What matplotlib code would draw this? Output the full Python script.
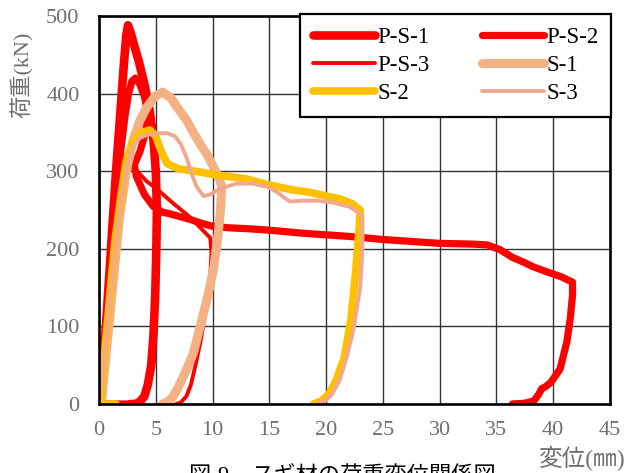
import matplotlib
matplotlib.use("Agg")
import matplotlib.pyplot as plt

# load-displacement data (x: mm, y: kN)
ps1_x = [0.0, 0.3, 0.7, 1.1, 1.5, 1.9, 2.2, 2.4, 2.55, 2.8, 3.1, 3.5, 4.0, 4.4, 4.8,
         5.0, 5.1, 5.05, 4.95, 4.8, 4.6, 4.3, 4.0, 3.6, 3.2, 2.8]
ps1_y = [0, 40, 120, 210, 300, 380, 440, 475, 488, 478, 462, 442, 412, 385, 340,
         300, 250, 200, 140, 90, 50, 25, 10, 3, 0, 0]

ps2_x = [2.6, 1.2, 0.1, 0.5, 1.0, 1.5, 1.9, 2.3, 2.6, 2.9, 3.2, 3.6, 4.0, 4.3, 4.1,
         3.6, 3.1, 3.3, 4.0, 4.75, 5.6, 6.0, 7.0, 8.0, 9.0, 10.0, 11.5, 13.0, 15.0,
         18.0, 20.0, 22.0, 25.0, 28.0, 30.0, 33.0, 34.2, 35.3, 36.4, 37.5, 38.2,
         39.5, 40.7, 41.7, 41.7, 41.5, 41.2, 40.6, 39.8, 39.3, 39.0, 38.7, 38.3,
         37.5, 36.4]
ps2_y = [0, 0, 0, 80, 170, 260, 325, 372, 400, 416, 420, 412, 396, 375, 350,
         325, 308, 293, 270, 255, 247, 246, 242, 238, 233, 229, 227, 226, 224,
         220, 218, 216, 212, 209, 207, 206, 205, 199, 189, 182, 177,
         170, 164, 157, 140, 110, 80, 45, 28, 22, 20, 12, 4,
         1, 0]

ps3_x = [0.0, 0.5, 1.0, 1.5, 2.0, 2.6, 3.35, 4.2, 5.1, 6.5, 8.0, 9.0, 9.8, 9.9,
         9.8, 9.4, 9.0, 8.5, 8.1, 7.7, 7.2, 6.8]
ps3_y = [0, 80, 170, 260, 315, 318, 300, 287, 277, 259, 241, 226, 214, 195,
         165, 120, 85, 50, 25, 10, 2, 0]

s1_x = [0.2, 0.6, 1.2, 1.8, 2.4, 3.0, 3.6, 4.2, 4.9, 5.6, 6.3, 7.0, 7.7, 8.3,
        8.9, 9.5, 10.1, 10.6, 10.8, 10.7, 10.5, 10.1, 9.6, 9.0, 8.3, 7.7, 7.0,
        6.5, 6.0, 5.6]
s1_y = [0, 60, 150, 240, 300, 340, 365, 382, 396, 402, 395, 380, 366, 350,
        335, 322, 305, 290, 280, 250, 220, 175, 140, 105, 65, 44, 22,
        9, 2, 0]

s2_x = [1.5, 0.1, 0.4, 0.9, 1.4, 1.9, 2.4, 3.0, 3.7, 4.5, 5.0, 5.5, 6.0, 7.0,
        8.5, 10.0, 11.5, 13.0, 14.5, 15.7, 17.0, 18.5, 20.0, 21.3, 22.3, 23.0,
        22.9, 22.6, 22.2, 21.6, 20.9, 20.3, 19.6, 18.9]
s2_y = [0, 0, 50, 130, 210, 265, 314, 338, 350, 353, 345, 325, 310, 303,
        300, 296, 293, 290, 284, 280, 276, 273, 268, 264, 258, 250,
        225, 170, 110, 60, 31, 14, 4, 0]

s3_x = [0.0, 0.5, 1.0, 1.5, 2.0, 2.5, 3.0, 3.6, 4.3, 5.0, 6.0, 6.7, 7.2, 7.7,
        8.2, 8.6, 9.2, 9.8, 10.6, 12.1, 13.5, 14.8, 15.7, 16.2, 16.8, 18.0,
        19.2, 20.5, 22.1, 23.2, 23.2, 23.0, 22.4, 21.8, 21.2, 20.5, 20.0, 19.2]
s3_y = [0, 60, 140, 210, 270, 310, 332, 343, 347, 349, 349, 345, 335, 318,
        295, 280, 268, 270, 277, 284, 284, 280, 273, 267, 261, 262,
        262, 260, 254, 243, 200, 150, 95, 60, 31, 12, 5, 0]

labels = ["P-S-1", "P-S-2", "P-S-3", "S-1", "S-2", "S-3"]
colors = ["#FF0000", "#FF0000", "#FF0000", "#F4B183", "#FFC000", "#F0A990"]
widths = [6.2, 5.2, 2.8, 6.5, 5.5, 2.8]

SERIF = ["Liberation Serif", "Noto Sans CJK JP"]
GRAY = "#707070"


def main():
    fig = plt.figure(figsize=(6.37, 4.73), dpi=100)
    ax = fig.add_axes([99 / 637, 1 - 404 / 473, 511 / 637, 388 / 473])

    data = [(ps1_x, ps1_y), (ps2_x, ps2_y), (ps3_x, ps3_y),
            (s1_x, s1_y), (s2_x, s2_y), (s3_x, s3_y)]
    lines = []
    for (x, y), lab, c, w in zip(data, labels, colors, widths):
        ln, = ax.plot(x, y, color=c, lw=w, label=lab,
                      solid_capstyle="round", solid_joinstyle="round")
        lines.append(ln)

    ax.set_xlim(0, 45)
    ax.set_ylim(0, 500)
    ax.set_xticks(range(0, 46, 5))
    ax.set_yticks(range(0, 501, 100))
    ax.grid(True, color="#333333", lw=1.0)
    ax.set_axisbelow(True)
    for s in ax.spines.values():
        s.set_color("black")
        s.set_linewidth(1.9)
    ax.tick_params(length=0, labelsize=16, labelcolor=GRAY)
    ax.tick_params(axis="x", pad=12)
    ax.tick_params(axis="y", pad=14)
    for t in ax.get_xticklabels() + ax.get_yticklabels():
        t.set_family(SERIF)

    # legend filled row by row like the original
    order = [0, 2, 4, 1, 3, 5]
    leg = ax.legend([lines[i] for i in order], [labels[i] for i in order],
                    ncol=2, loc="upper right", bbox_to_anchor=(1.002, 1.005),
                    borderaxespad=0, fancybox=False, framealpha=1,
                    edgecolor="black", handlelength=2.7, handletextpad=0.1,
                    columnspacing=2.3, labelspacing=0.32, borderpad=0.55,
                    prop={"family": SERIF, "size": 16.5})
    leg.get_frame().set_linewidth(1.6)

    fig.text(22 / 637, 1 - 75 / 473, "荷重(kN)", rotation=90, ha="center",
             va="center", fontsize=16, color=GRAY, family=SERIF)
    fig.text(582 / 637, 1 - 458 / 473, "変位(㎜)", ha="center", va="center",
             fontsize=17, color=GRAY, family=SERIF)

    # figure caption, cut off by the bottom edge as in the source
    fig.text(188 / 637, 1 - 467 / 473, "図", ha="left", va="top",
             fontsize=16, family=SERIF)
    fig.text(217 / 637, 1 - 467 / 473, "9", ha="left", va="top",
             fontsize=16, family=SERIF)
    fig.text(252 / 637, 1 - 467 / 473, "スギ材の荷重変位関係図", ha="left",
             va="top", fontsize=16, family=SERIF)

    fig.savefig("out.png", dpi=100)
    plt.close(fig)


if __name__ == "__main__":
    main()
